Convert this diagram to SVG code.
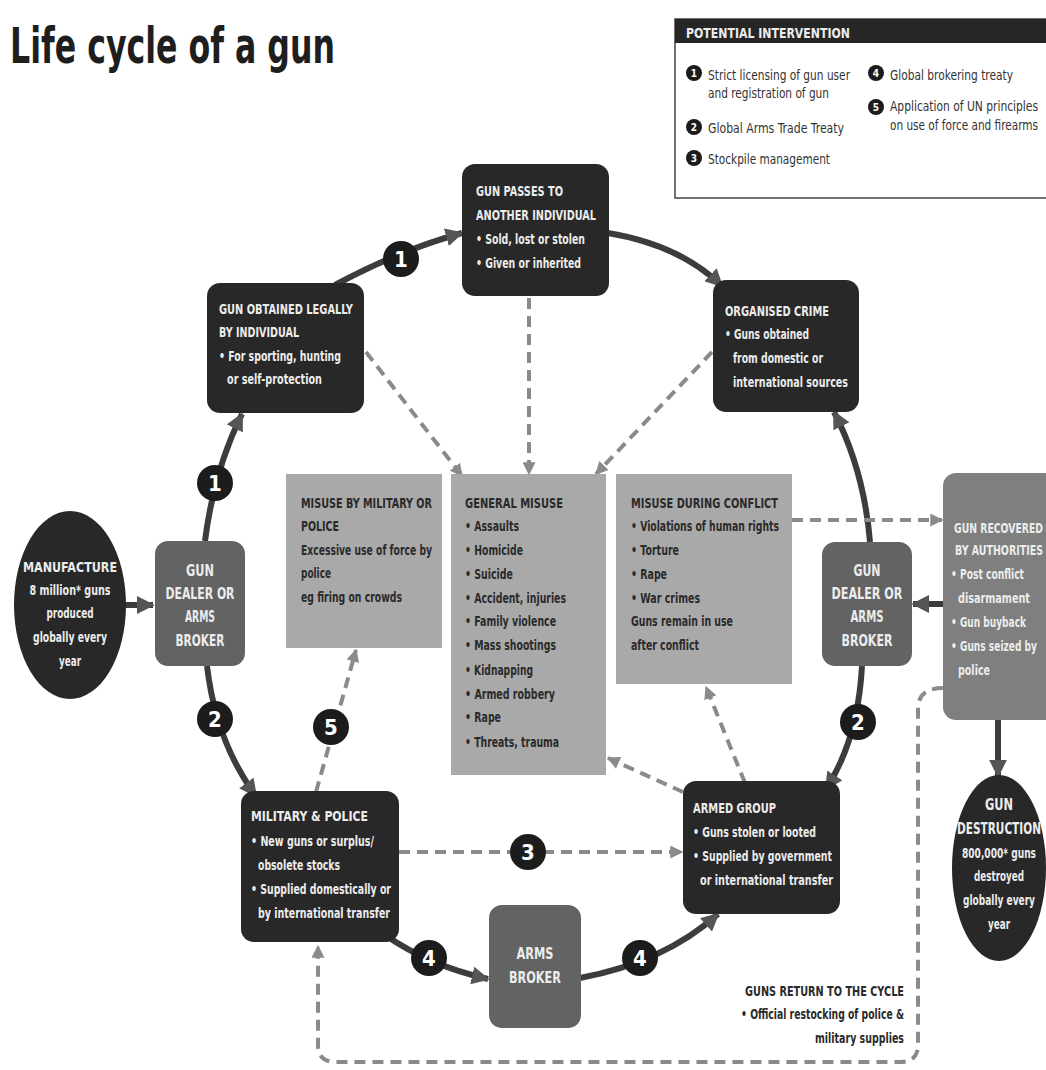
<svg xmlns="http://www.w3.org/2000/svg" width="1046" height="1070" viewBox="0 0 1046 1070">
<defs>
<style>
.t{font-family:"DejaVu Sans Condensed","Liberation Sans",sans-serif;font-weight:bold;font-size:14px}
.w{fill:#ececec}
.k{fill:#2a2a2a}
.c{text-anchor:middle}
.big{font-size:15px}
.dark{fill:#282828}
.mid{fill:#636363}
.light{fill:#a9a9a9}
.rec{fill:#7f7f7f}
.solid{fill:none;stroke:#3c3c3c;stroke-width:6}
.dash{fill:none;stroke:#8a8a8a;stroke-width:4;stroke-dasharray:11 7}
.num{fill:#1c1c1c}
.nt{font-family:"DejaVu Sans Condensed","Liberation Sans",sans-serif;font-weight:bold;font-size:22px;fill:#fff;text-anchor:middle}
.ln{font-family:"DejaVu Sans Condensed","Liberation Sans",sans-serif;font-weight:bold;font-size:10px;fill:#fff;text-anchor:middle}
.lg{font-family:"DejaVu Sans Condensed","Liberation Sans",sans-serif;font-size:14px;fill:#333}
</style>
<marker id="ah" viewBox="0 0 10 10" refX="9" refY="5" markerWidth="18" markerHeight="18" markerUnits="userSpaceOnUse" orient="auto">
<path d="M0,0 L10,5 L0,10 z" fill="#555"/>
</marker>
<marker id="ad" viewBox="0 0 10 10" refX="9" refY="5" markerWidth="13" markerHeight="13" markerUnits="userSpaceOnUse" orient="auto">
<path d="M0,0 L10,5 L0,10 z" fill="#8a8a8a"/>
</marker>
</defs>
<rect width="1046" height="1070" fill="#fff"/>
<text x="10" y="63" font-family="DejaVu Sans Condensed,Liberation Sans,sans-serif" font-weight="bold" font-size="50" fill="#1e1e1e" textLength="325" lengthAdjust="spacingAndGlyphs">Life cycle of a gun</text>

<g id="legend">
<rect x="675" y="19" width="390" height="179" fill="#fff" stroke="#444" stroke-width="1.5"/>
<rect x="675" y="19" width="390" height="24" fill="#262626"/>
<text x="686" y="38" class="t w" textLength="164" lengthAdjust="spacingAndGlyphs">POTENTIAL INTERVENTION</text>
<circle cx="694" cy="73" r="8" class="num"/><text x="694" y="77" class="ln">1</text>
<text x="708" y="80" class="lg" textLength="142" lengthAdjust="spacingAndGlyphs">Strict licensing of gun user</text>
<text x="708" y="98" class="lg" textLength="121" lengthAdjust="spacingAndGlyphs">and registration of gun</text>
<circle cx="694" cy="127" r="8" class="num"/><text x="694" y="131" class="ln">2</text>
<text x="708" y="133" class="lg" textLength="136" lengthAdjust="spacingAndGlyphs">Global Arms Trade Treaty</text>
<circle cx="694" cy="158" r="8" class="num"/><text x="694" y="162" class="ln">3</text>
<text x="708" y="164" class="lg" textLength="122" lengthAdjust="spacingAndGlyphs">Stockpile management</text>
<circle cx="876" cy="73" r="8" class="num"/><text x="876" y="77" class="ln">4</text>
<text x="890" y="80" class="lg" textLength="123" lengthAdjust="spacingAndGlyphs">Global brokering treaty</text>
<circle cx="876" cy="107" r="8" class="num"/><text x="876" y="111" class="ln">5</text>
<text x="890" y="111" class="lg" textLength="148" lengthAdjust="spacingAndGlyphs">Application of UN principles</text>
<text x="890" y="130" class="lg" textLength="148" lengthAdjust="spacingAndGlyphs">on use of force and firearms</text>
</g>

<g id="connectors">
<path class="solid" d="M124,605 L153,605" marker-end="url(#ah)"/>
<path class="solid" d="M205,541 Q214,470 242,414" marker-end="url(#ah)"/>
<path class="solid" d="M335,285 Q400,250 462,233" marker-end="url(#ah)"/>
<path class="solid" d="M608,233 Q680,245 722,286" marker-end="url(#ah)"/>
<path class="solid" d="M870,542 Q864,470 834,412" marker-end="url(#ah)"/>
<path class="solid" d="M862,666 Q858,740 826,789" marker-end="url(#ah)"/>
<path class="solid" d="M207,666 Q216,742 256,796" marker-end="url(#ah)"/>
<path class="solid" d="M385,935 Q430,966 488,979" marker-end="url(#ah)"/>
<path class="solid" d="M580,978 Q665,962 718,914" marker-end="url(#ah)"/>
<path class="solid" d="M943,604 L913,604" marker-end="url(#ah)"/>
<path class="solid" d="M998,720 L998,776" marker-end="url(#ah)"/>

<path class="dash" d="M366,352 L462,476" marker-end="url(#ad)"/>
<path class="dash" d="M529,298 L529,474" marker-end="url(#ad)"/>
<path class="dash" d="M712,352 L596,474" marker-end="url(#ad)"/>
<path class="dash" d="M316,792 L356,650" marker-end="url(#ad)"/>
<path class="dash" d="M683,792 L608,758" marker-end="url(#ad)"/>
<path class="dash" d="M745,783 L706,687" marker-end="url(#ad)"/>
<path class="dash" d="M399,852 L682,852" marker-end="url(#ad)"/>
<path class="dash" d="M792,520 L942,520" marker-end="url(#ad)"/>
<path class="dash" d="M943,688 Q920,688 918,706 L918,1045 Q918,1062 900,1062 L336,1062 Q318,1062 318,1045 L318,946" marker-end="url(#ad)"/>

<circle cx="215" cy="483" r="18" class="num"/><text x="215" y="491" class="nt">1</text>
<circle cx="401" cy="259" r="18" class="num"/><text x="401" y="267" class="nt">1</text>
<circle cx="215" cy="719" r="18" class="num"/><text x="215" y="727" class="nt">2</text>
<circle cx="858" cy="722" r="18" class="num"/><text x="858" y="730" class="nt">2</text>
<circle cx="528" cy="852" r="18" class="num"/><text x="528" y="860" class="nt">3</text>
<circle cx="429" cy="958" r="18" class="num"/><text x="429" y="966" class="nt">4</text>
<circle cx="640" cy="958" r="18" class="num"/><text x="640" y="966" class="nt">4</text>
<circle cx="331" cy="727" r="18" class="num"/><text x="331" y="735" class="nt">5</text>
</g>

<g id="gun-passes">
<rect x="462" y="164" width="147" height="132" rx="13" class="dark"/>
<text class="t w" x="476" y="196" textLength="87" lengthAdjust="spacingAndGlyphs">GUN PASSES TO</text>
<text class="t w" x="476" y="220" textLength="120" lengthAdjust="spacingAndGlyphs">ANOTHER INDIVIDUAL</text>
<text class="t w" x="476" y="244" textLength="109" lengthAdjust="spacingAndGlyphs">• Sold, lost or stolen</text>
<text class="t w" x="476" y="268" textLength="105" lengthAdjust="spacingAndGlyphs">• Given or inherited</text>
</g>

<g id="gun-obtained">
<rect x="207" y="283" width="157" height="130" rx="13" class="dark"/>
<text class="t w" x="219" y="314" textLength="134" lengthAdjust="spacingAndGlyphs">GUN OBTAINED LEGALLY</text>
<text class="t w" x="219" y="337" textLength="80" lengthAdjust="spacingAndGlyphs">BY INDIVIDUAL</text>
<text class="t w" x="219" y="361" textLength="122" lengthAdjust="spacingAndGlyphs">• For sporting, hunting</text>
<text class="t w" x="227" y="384" textLength="95" lengthAdjust="spacingAndGlyphs">or self-protection</text>
</g>

<g id="organised-crime">
<rect x="713" y="280" width="146" height="132" rx="13" class="dark"/>
<text class="t w" x="725" y="316" textLength="104" lengthAdjust="spacingAndGlyphs">ORGANISED CRIME</text>
<text class="t w" x="725" y="339" textLength="84" lengthAdjust="spacingAndGlyphs">• Guns obtained</text>
<text class="t w" x="733" y="363" textLength="90" lengthAdjust="spacingAndGlyphs">from domestic or</text>
<text class="t w" x="733" y="387" textLength="115" lengthAdjust="spacingAndGlyphs">international sources</text>
</g>

<g id="manufacture">
<ellipse cx="70" cy="605" rx="56" ry="94" class="dark"/>
<text class="t w c" x="70" y="572" textLength="94" lengthAdjust="spacingAndGlyphs">MANUFACTURE</text>
<text class="t w c" x="70" y="595" textLength="81" lengthAdjust="spacingAndGlyphs">8 million* guns</text>
<text class="t w c" x="70" y="618" textLength="47" lengthAdjust="spacingAndGlyphs">produced</text>
<text class="t w c" x="70" y="642" textLength="74" lengthAdjust="spacingAndGlyphs">globally every</text>
<text class="t w c" x="70" y="666" textLength="22" lengthAdjust="spacingAndGlyphs">year</text>
</g>

<g id="dealer-left">
<rect x="155" y="541" width="90" height="125" rx="13" class="mid"/>
<text class="t w c big" x="200" y="576" textLength="28" lengthAdjust="spacingAndGlyphs">GUN</text>
<text class="t w c big" x="200" y="599" textLength="69" lengthAdjust="spacingAndGlyphs">DEALER OR</text>
<text class="t w c big" x="200" y="622" textLength="30" lengthAdjust="spacingAndGlyphs">ARMS</text>
<text class="t w c big" x="200" y="646" textLength="49" lengthAdjust="spacingAndGlyphs">BROKER</text>
</g>

<g id="misuse-military">
<rect x="286" y="474" width="156" height="174" class="light"/>
<text class="t k" x="301" y="508" textLength="131" lengthAdjust="spacingAndGlyphs">MISUSE BY MILITARY OR</text>
<text class="t k" x="301" y="531" textLength="38" lengthAdjust="spacingAndGlyphs">POLICE</text>
<text class="t k" x="301" y="555" textLength="131" lengthAdjust="spacingAndGlyphs">Excessive use of force by</text>
<text class="t k" x="301" y="578" textLength="30" lengthAdjust="spacingAndGlyphs">police</text>
<text class="t k" x="301" y="602" textLength="101" lengthAdjust="spacingAndGlyphs">eg firing on crowds</text>
</g>

<g id="general-misuse">
<rect x="451" y="474" width="155" height="301" class="light"/>
<text class="t k" x="465" y="508" textLength="98" lengthAdjust="spacingAndGlyphs">GENERAL MISUSE</text>
<text class="t k" x="465" y="531" textLength="54" lengthAdjust="spacingAndGlyphs">• Assaults</text>
<text class="t k" x="465" y="555" textLength="58" lengthAdjust="spacingAndGlyphs">• Homicide</text>
<text class="t k" x="465" y="579" textLength="48" lengthAdjust="spacingAndGlyphs">• Suicide</text>
<text class="t k" x="465" y="603" textLength="101" lengthAdjust="spacingAndGlyphs">• Accident, injuries</text>
<text class="t k" x="465" y="626" textLength="91" lengthAdjust="spacingAndGlyphs">• Family violence</text>
<text class="t k" x="465" y="650" textLength="91" lengthAdjust="spacingAndGlyphs">• Mass shootings</text>
<text class="t k" x="465" y="675" textLength="68" lengthAdjust="spacingAndGlyphs">• Kidnapping</text>
<text class="t k" x="465" y="699" textLength="90" lengthAdjust="spacingAndGlyphs">• Armed robbery</text>
<text class="t k" x="465" y="722" textLength="36" lengthAdjust="spacingAndGlyphs">• Rape</text>
<text class="t k" x="465" y="747" textLength="94" lengthAdjust="spacingAndGlyphs">• Threats, trauma</text>
</g>

<g id="misuse-conflict">
<rect x="616" y="474" width="176" height="210" class="light"/>
<text class="t k" x="631" y="508" textLength="147" lengthAdjust="spacingAndGlyphs">MISUSE DURING CONFLICT</text>
<text class="t k" x="631" y="531" textLength="148" lengthAdjust="spacingAndGlyphs">• Violations of human rights</text>
<text class="t k" x="631" y="555" textLength="48" lengthAdjust="spacingAndGlyphs">• Torture</text>
<text class="t k" x="631" y="579" textLength="36" lengthAdjust="spacingAndGlyphs">• Rape</text>
<text class="t k" x="631" y="603" textLength="69" lengthAdjust="spacingAndGlyphs">• War crimes</text>
<text class="t k" x="631" y="626" textLength="102" lengthAdjust="spacingAndGlyphs">Guns remain in use</text>
<text class="t k" x="631" y="650" textLength="68" lengthAdjust="spacingAndGlyphs">after conflict</text>
</g>

<g id="dealer-right">
<rect x="822" y="542" width="90" height="124" rx="13" class="mid"/>
<text class="t w c big" x="867" y="576" textLength="27" lengthAdjust="spacingAndGlyphs">GUN</text>
<text class="t w c big" x="867" y="599" textLength="71" lengthAdjust="spacingAndGlyphs">DEALER OR</text>
<text class="t w c big" x="867" y="622" textLength="33" lengthAdjust="spacingAndGlyphs">ARMS</text>
<text class="t w c big" x="867" y="646" textLength="51" lengthAdjust="spacingAndGlyphs">BROKER</text>
</g>

<g id="gun-recovered">
<rect x="943" y="473" width="120" height="247" rx="13" class="rec"/>
<text class="t w" x="954" y="533" textLength="89" lengthAdjust="spacingAndGlyphs">GUN RECOVERED</text>
<text class="t w" x="955" y="555" textLength="88" lengthAdjust="spacingAndGlyphs">BY AUTHORITIES</text>
<text class="t w" x="951" y="579" textLength="73" lengthAdjust="spacingAndGlyphs">• Post conflict</text>
<text class="t w" x="958" y="603" textLength="72" lengthAdjust="spacingAndGlyphs">disarmament</text>
<text class="t w" x="951" y="627" textLength="75" lengthAdjust="spacingAndGlyphs">• Gun buyback</text>
<text class="t w" x="951" y="651" textLength="86" lengthAdjust="spacingAndGlyphs">• Guns seized by</text>
<text class="t w" x="958" y="675" textLength="32" lengthAdjust="spacingAndGlyphs">police</text>
</g>

<g id="gun-destruction">
<ellipse cx="999" cy="868" rx="47" ry="93" class="dark"/>
<text class="t w c big" x="999" y="810" textLength="28" lengthAdjust="spacingAndGlyphs">GUN</text>
<text class="t w c big" x="999" y="834" textLength="84" lengthAdjust="spacingAndGlyphs">DESTRUCTION</text>
<text class="t w c" x="999" y="858" textLength="74" lengthAdjust="spacingAndGlyphs">800,000* guns</text>
<text class="t w c" x="999" y="881" textLength="50" lengthAdjust="spacingAndGlyphs">destroyed</text>
<text class="t w c" x="999" y="905" textLength="72" lengthAdjust="spacingAndGlyphs">globally every</text>
<text class="t w c" x="999" y="929" textLength="22" lengthAdjust="spacingAndGlyphs">year</text>
</g>

<g id="military-police">
<rect x="241" y="791" width="158" height="151" rx="13" class="dark"/>
<text class="t w" x="251" y="821" textLength="117" lengthAdjust="spacingAndGlyphs">MILITARY &amp; POLICE</text>
<text class="t w" x="251" y="846" textLength="123" lengthAdjust="spacingAndGlyphs">• New guns or surplus/</text>
<text class="t w" x="258" y="870" textLength="82" lengthAdjust="spacingAndGlyphs">obsolete stocks</text>
<text class="t w" x="251" y="894" textLength="140" lengthAdjust="spacingAndGlyphs">• Supplied domestically or</text>
<text class="t w" x="258" y="918" textLength="132" lengthAdjust="spacingAndGlyphs">by international transfer</text>
</g>

<g id="armed-group">
<rect x="683" y="781" width="157" height="133" rx="13" class="dark"/>
<text class="t w" x="693" y="813" textLength="83" lengthAdjust="spacingAndGlyphs">ARMED GROUP</text>
<text class="t w" x="693" y="837" textLength="123" lengthAdjust="spacingAndGlyphs">• Guns stolen or looted</text>
<text class="t w" x="693" y="861" textLength="139" lengthAdjust="spacingAndGlyphs">• Supplied by government</text>
<text class="t w" x="700" y="885" textLength="133" lengthAdjust="spacingAndGlyphs">or international transfer</text>
</g>

<g id="arms-broker">
<rect x="489" y="905" width="92" height="123" rx="13" class="mid"/>
<text class="t w c big" x="535" y="959" textLength="37" lengthAdjust="spacingAndGlyphs">ARMS</text>
<text class="t w c big" x="535" y="983" textLength="52" lengthAdjust="spacingAndGlyphs">BROKER</text>
</g>

<g id="guns-return">
<text class="t k" x="904" y="996" text-anchor="end" textLength="159" lengthAdjust="spacingAndGlyphs">GUNS RETURN TO THE CYCLE</text>
<text class="t k" x="904" y="1019" text-anchor="end" textLength="163" lengthAdjust="spacingAndGlyphs">• Official restocking of police &amp;</text>
<text class="t k" x="904" y="1043" text-anchor="end" textLength="89" lengthAdjust="spacingAndGlyphs">military supplies</text>
</g>
</svg>
